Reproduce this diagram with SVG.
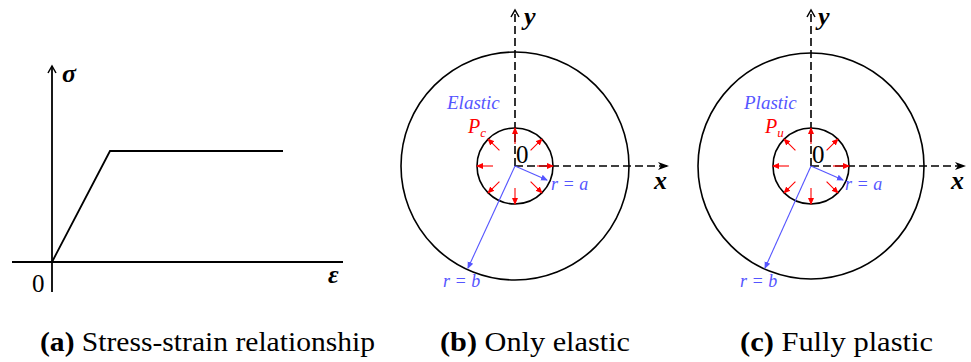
<svg xmlns="http://www.w3.org/2000/svg" width="971" height="362" viewBox="0 0 971 362">
<style>
.ax{stroke:#000;stroke-width:1.8;fill:none}
.dash{stroke:#000;stroke-width:1.6;fill:none;stroke-dasharray:8 4}
.circ{stroke:#000;stroke-width:1.6;fill:none}
.red{stroke:#f00;stroke-width:1.1;fill:none;marker-end:url(#rh)}
.blue{stroke:#55f;stroke-width:1.1;fill:none;marker-end:url(#bh)}
.lbl{font-style:italic;font-weight:bold;font-size:26px;fill:#000}
.num{font-size:25px;fill:#000}
.reg{font-style:italic;font-size:19px;fill:#55f}
.pc{font-style:italic;font-size:20px;fill:#f00}
.rr{font-style:italic;font-size:18px;fill:#55f}
.cap{font-size:28px;fill:#000}
</style>
<defs>
<marker id="up" markerWidth="10" markerHeight="10" refX="8" refY="5" orient="auto" markerUnits="userSpaceOnUse"><path d="M1,1 L8,5 L1,9" fill="none" stroke="#000" stroke-width="1.5"/></marker>
<marker id="tri" markerWidth="12" markerHeight="10" refX="10" refY="5" orient="auto" markerUnits="userSpaceOnUse"><path d="M0,1 L11,5 L0,9 L3,5 Z" fill="#000"/></marker>
<marker id="rh" markerWidth="8" markerHeight="8" refX="6" refY="4" orient="auto" markerUnits="userSpaceOnUse"><path d="M0,1 L7,4 L0,7 Z" fill="#f00"/></marker>
<marker id="bh" markerWidth="8" markerHeight="8" refX="6" refY="4" orient="auto" markerUnits="userSpaceOnUse"><path d="M0,1 L7,4 L0,7 Z" fill="#55f"/></marker>
</defs>
<g font-family="Liberation Serif, DejaVu Serif, serif">
<g id="panel-a">
<line class="ax" x1="52" y1="292" x2="52" y2="66" marker-end="url(#up)"/>
<line class="ax" x1="12" y1="262" x2="343" y2="262"/>
<polyline class="ax" points="52,262 110,151 283,151"/>
<text class="lbl" x="62" y="82">σ</text>
<text class="lbl" x="328" y="283">ε</text>
<text class="num" x="32" y="292">0</text>
<text class="cap" x="40" y="351" textLength="335" lengthAdjust="spacingAndGlyphs"><tspan font-weight="bold">(a)</tspan> Stress-strain relationship</text>
</g>

<g id="panel-b">
<circle class="circ" cx="515" cy="166" r="114"/>
<circle class="circ" cx="515" cy="166" r="38"/>
<g id="axes-b">
<line class="dash" x1="515" y1="166" x2="515" y2="10" marker-end="url(#up)"/>
<line class="dash" x1="515" y1="166" x2="668" y2="166" marker-end="url(#tri)"/>
</g>
<g transform="translate(515,166)">
<line class="red" x1="0" y1="-22" x2="0" y2="-38"/>
<line class="red" x1="0" y1="22" x2="0" y2="38"/>
<line class="red" x1="-22" y1="0" x2="-38" y2="0"/>
<line class="red" x1="22" y1="0" x2="38" y2="0"/>
<line class="red" x1="15.6" y1="-15.6" x2="26.9" y2="-26.9"/>
<line class="red" x1="-15.6" y1="-15.6" x2="-26.9" y2="-26.9"/>
<line class="red" x1="15.6" y1="15.6" x2="26.9" y2="26.9"/>
<line class="red" x1="-15.6" y1="15.6" x2="-26.9" y2="26.9"/>
</g>
<line class="blue" x1="515" y1="166" x2="547" y2="180"/>
<line class="blue" x1="515" y1="166" x2="468" y2="268"/>
<text class="lbl" x="524" y="25">y</text>
<text class="lbl" x="654" y="189">x</text>
<text class="num" x="516" y="163">0</text>
<text class="reg" x="447" y="109">Elastic</text>
<text class="pc" x="468" y="133">P<tspan font-size="13" dy="4">c</tspan></text>
<text class="rr" x="551" y="190">r = a</text>
<text class="rr" x="443" y="287">r = b</text>
<text class="cap" x="440" y="351" textLength="190" lengthAdjust="spacingAndGlyphs"><tspan font-weight="bold">(b)</tspan> Only elastic</text>
</g>

<g id="panel-c">
<circle class="circ" cx="811" cy="166" r="113"/>
<circle class="circ" cx="811" cy="166" r="38"/>
<g id="axes-c">
<line class="dash" x1="811" y1="166" x2="811" y2="10" marker-end="url(#up)"/>
<line class="dash" x1="811" y1="166" x2="965" y2="166" marker-end="url(#tri)"/>
</g>
<g transform="translate(811,166)">
<line class="red" x1="0" y1="-22" x2="0" y2="-38"/>
<line class="red" x1="0" y1="22" x2="0" y2="38"/>
<line class="red" x1="-22" y1="0" x2="-38" y2="0"/>
<line class="red" x1="22" y1="0" x2="38" y2="0"/>
<line class="red" x1="15.6" y1="-15.6" x2="26.9" y2="-26.9"/>
<line class="red" x1="-15.6" y1="-15.6" x2="-26.9" y2="-26.9"/>
<line class="red" x1="15.6" y1="15.6" x2="26.9" y2="26.9"/>
<line class="red" x1="-15.6" y1="15.6" x2="-26.9" y2="26.9"/>
</g>
<line class="blue" x1="811" y1="166" x2="843" y2="180"/>
<line class="blue" x1="811" y1="166" x2="765" y2="268"/>
<text class="lbl" x="818" y="25">y</text>
<text class="lbl" x="951" y="189">x</text>
<text class="num" x="812" y="163">0</text>
<text class="reg" x="744" y="109">Plastic</text>
<text class="pc" x="765" y="133">P<tspan font-size="13" dy="4">u</tspan></text>
<text class="rr" x="845" y="190">r = a</text>
<text class="rr" x="740" y="287">r = b</text>
<text class="cap" x="740" y="351" textLength="193" lengthAdjust="spacingAndGlyphs"><tspan font-weight="bold">(c)</tspan> Fully plastic</text>
</g>
</g>
</svg>
